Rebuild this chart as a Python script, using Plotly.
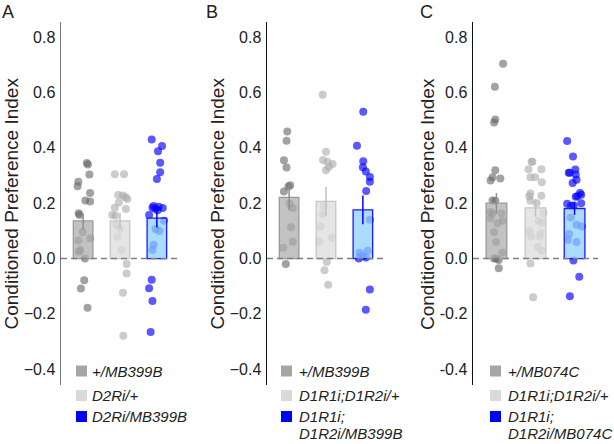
import plotly.graph_objects as go

W, H = 614, 444

# ---- data ----
panel_letters = ["A", "B", "C"]
labels_A = ["+/MB399B", "D2Ri/+", "D2Ri/MB399B"]
labels_B = ["+/MB399B", "D1R1i;D1R2i/+", "D1R1i;", "D1R2i/MB399B"]
labels_C = ["+/MB074C", "D1R1i;D1R2i/+", "D1R1i;", "D1R2i/MB074C"]

means_A = [0.136, 0.136, 0.146]
sem_A = [0.028, 0.028, 0.034]
means_B = [0.221, 0.207, 0.176]
sem_B = [0.046, 0.052, 0.052]
means_C = [0.200, 0.183, 0.181]
sem_C = [0.037, 0.032, 0.023]

# individual flies: values and horizontal jitter (in category units)
A1_y = [0.345, 0.34, 0.304, 0.278, 0.261, 0.237, 0.21, 0.206, 0.164, 0.157, 0.096,
        0.073, 0.065, 0.031, 0.025, 0.0, -0.078, -0.108, -0.178]
A1_dx = [0.10, 0.13, 0.17, -0.13, -0.15, 0.19, 0.06, 0.19, -0.12, -0.10, -0.01,
         0.19, -0.13, -0.08, -0.12, 0.05, 0.03, -0.06, 0.12]
A2_y = [0.305, 0.305, 0.23, 0.228, 0.222, 0.215, 0.203, 0.184, 0.179, 0.157, 0.155,
        0.122, 0.108, 0.079, 0.031, -0.02, -0.054, -0.124, -0.279]
A2_dx = [-0.14, 0.11, -0.05, 0.08, 0.15, 0.20, -0.03, -0.14, 0.16, -0.21, -0.12,
         -0.10, -0.01, -0.07, 0.04, 0.18, 0.18, 0.08, 0.09]
A3_y = [0.43, 0.407, 0.388, 0.346, 0.312, 0.288, 0.19, 0.187, 0.184, 0.18, 0.175,
        0.183, 0.157, 0.137, 0.107, 0.10, 0.05, 0.031, -0.077, -0.107, -0.153, -0.265]
A3_dx = [-0.14, 0.14, 0.03, 0.09, 0.09, 0.0, -0.09, 0.05, -0.12, -0.04, 0.02,
         0.16, -0.21, 0.19, -0.04, 0.07, -0.09, -0.12, -0.14, -0.21, -0.12, -0.17]

B1_y = [0.459, 0.426, 0.355, 0.329, 0.265, 0.26, 0.242, 0.198, 0.183, 0.113,
        0.061, 0.039, -0.02]
B1_dx = [-0.05, -0.07, -0.14, -0.07, 0.03, -0.02, -0.14, 0.01, 0.10, 0.05,
         0.10, -0.16, -0.09]
B2_y = [0.592, 0.386, 0.356, 0.35, 0.342, 0.331, 0.319, 0.191, 0.161, 0.116,
        0.075, 0.061, -0.012, -0.042, -0.095]
B2_dx = [-0.09, 0.0, -0.08, 0.04, 0.18, 0.08, 0.0, -0.06, -0.08, -0.14,
         0.16, -0.18, 0.02, -0.04, 0.06]
B3_y = [0.531, 0.408, 0.352, 0.33, 0.315, 0.295, 0.278, 0.244, 0.14, 0.021,
        0.028, 0.01, 0.0, 0.004, -0.112, -0.185]
B3_dx = [0.01, -0.16, 0.01, 0.0, 0.08, 0.19, 0.19, 0.09, 0.19, -0.09,
         0.13, -0.01, -0.11, 0.08, 0.19, 0.08]

C1_y = [0.704, 0.621, 0.503, 0.492, 0.319, 0.294, 0.289, 0.282, 0.209, 0.21,
        0.168, 0.164, 0.164, 0.146, 0.128, 0.137, 0.095, 0.06, 0.021, 0.0,
        -0.005, 0.0, -0.035]
C1_dx = [0.17, -0.04, -0.03, -0.06, -0.03, -0.10, 0.10, -0.15, -0.03, -0.10,
         -0.16, -0.10, 0.13, -0.15, 0.03, 0.16, -0.06, -0.01, 0.15, -0.06,
         0.06, -0.01, 0.06]
C2_y = [0.35, 0.35, 0.323, 0.323, 0.294, 0.294, 0.276, 0.235, 0.227, 0.225,
        0.209, 0.2, 0.164, 0.136, 0.129, 0.1, 0.092, 0.079, 0.079, 0.028,
        0.043, -0.018, -0.14]
C2_dx = [-0.10, -0.08, -0.18, 0.15, -0.13, -0.01, 0.16, -0.13, 0.15, -0.16,
         -0.13, 0.03, 0.20, 0.08, 0.16, -0.16, 0.13, -0.11, 0.11, 0.16,
         0.06, -0.13, -0.06]
C3_y = [0.425, 0.369, 0.31, 0.31, 0.322, 0.304, 0.273, 0.285, 0.225, 0.237,
        0.231, 0.223, 0.198, 0.191, 0.192, 0.2, 0.148, 0.122, 0.116, 0.089,
        0.067, 0.06, -0.007, -0.066, -0.136]
C3_dx = [-0.19, -0.04, -0.15, -0.12, 0.02, 0.03, -0.05, 0.05, 0.07, 0.14,
         0.17, 0.03, -0.19, -0.09, -0.02, 0.17, -0.10, 0.05, 0.19, -0.14,
         -0.17, 0.05, -0.03, 0.12, -0.12]

tick_vals = [-0.4, -0.2, 0.0, 0.2, 0.4, 0.6, 0.8]
tick_text_minus = ["\u22120.4", "\u22120.2", "0.0", "0.2", "0.4", "0.6", "0.8"]
tick_text_hyphen = ["-0.4", "-0.2", "0.0", "0.2", "0.4", "0.6", "0.8"]

# ---- styling ----
FONT = "Liberation Sans, Arial, sans-serif"
TXT = "#222222"
point_cols = ["rgba(100,100,100,0.6)", "rgba(170,170,170,0.6)", "rgba(0,0,255,0.65)"]
bar_fill = ["rgba(174,174,174,0.75)", "rgba(220,220,220,0.75)", "rgba(142,208,255,0.75)"]
bar_line = ["#9a9a9a", "#c6c6c6", "#1a1aff"]
err_col = ["#8f8f8f", "#c0c0c0", "#0000ff"]
legend_sq = ["#a6a6a6", "#d9d9d9", "#0000ff"]

# pixel layout of each panel: axis line x, right end, legend square left, legend text left
axis_px = [61, 267, 473]
end_px = [179, 385, 598]
leg_px = [76, 281, 490]
leg_txt_px = [90, 297, 506]
title_px = [10.5, 216.5, 427]
letter_px = [0, 204, 418]
axis_col = ["#777777", "#111111", "#111111"]

y_top_px, y_bot_px = 22, 385
y_range = [-0.457, 0.855]
x_range = [-0.6, 2.6]

panels = [
    (labels_A, means_A, sem_A, [(A1_y, A1_dx), (A2_y, A2_dx), (A3_y, A3_dx)], tick_text_minus),
    (labels_B, means_B, sem_B, [(B1_y, B1_dx), (B2_y, B2_dx), (B3_y, B3_dx)], tick_text_minus),
    (labels_C, means_C, sem_C, [(C1_y, C1_dx), (C2_y, C2_dx), (C3_y, C3_dx)], tick_text_hyphen),
]

fig = go.Figure()
shapes = []
annotations = []
axes = {}

for p, (labels, means, sems, pts, ticktext) in enumerate(panels):
    k = p + 1            # points + visible y axis
    ko = p + 4           # overlay axes for the bars (drawn above the points)
    xa, ya = ("x", "y") if k == 1 else (f"x{k}", f"y{k}")
    xo, yo = f"x{ko}", f"y{ko}"

    for g in range(3):
        ys, dxs = pts[g]
        fig.add_trace(go.Scatter(
            x=[g + d for d in dxs], y=ys, mode="markers",
            marker=dict(size=8, color=point_cols[g], line=dict(width=0)),
            xaxis=xa, yaxis=ya, showlegend=False))
    for g in range(3):
        fig.add_trace(go.Bar(
            x=[g], y=[means[g]], width=0.53,
            marker=dict(color=bar_fill[g], line=dict(color=bar_line[g], width=1.3)),
            error_y=dict(type="data", array=[sems[g]], color=err_col[g], thickness=1.5, width=0),
            xaxis=xo, yaxis=yo, showlegend=False))

    kx = "" if k == 1 else str(k)
    axes[f"xaxis{kx}"] = dict(domain=[axis_px[p] / W, end_px[p] / W], range=x_range,
                              visible=False, anchor=ya)
    axes[f"yaxis{kx}"] = dict(domain=[1 - y_bot_px / H, 1 - y_top_px / H], range=y_range,
                              anchor=xa, showline=True, linecolor=axis_col[p], linewidth=1.5,
                              showgrid=False, zeroline=False, ticks="", tickvals=tick_vals,
                              ticktext=ticktext, ticklabelstandoff=1,
                              tickfont=dict(family=FONT, size=16, color=TXT))
    axes[f"xaxis{ko}"] = dict(overlaying=xa, range=x_range, visible=False, anchor=yo)
    axes[f"yaxis{ko}"] = dict(overlaying=ya, range=y_range, visible=False, anchor=xo)

    # dashed zero line
    shapes.append(dict(type="line", xref=f"{xa} domain", yref=ya, x0=0, x1=1, y0=0, y1=0,
                       line=dict(color="#808080", width=1.4, dash="6px,4px"), layer="above"))

    # y title
    annotations.append(dict(text="Conditioned Preference Index", xref="paper", yref="paper",
                            x=title_px[p] / W, y=1 - 204 / H, xanchor="center", yanchor="middle",
                            textangle=-90, showarrow=False,
                            font=dict(family=FONT, size=19, color=TXT)))
    # panel letter
    annotations.append(dict(text=panel_letters[p], xref="paper", yref="paper",
                            x=letter_px[p] / W, y=1, xanchor="left", yanchor="top",
                            showarrow=False, font=dict(family=FONT, size=18, color=TXT)))

    # legend
    rows = [371, 395.5, 416.5]
    sq = 11
    for g in range(3):
        cy = rows[g]
        shapes.append(dict(type="rect", xref="paper", yref="paper",
                           x0=leg_px[p] / W, x1=(leg_px[p] + sq) / W,
                           y0=1 - (cy + sq / 2) / H, y1=1 - (cy - sq / 2) / H,
                           fillcolor=legend_sq[g], line=dict(width=0)))
        annotations.append(dict(text=f"<i>{labels[g]}</i>", xref="paper", yref="paper",
                                x=leg_txt_px[p] / W, y=1 - cy / H,
                                xanchor="left", yanchor="middle", showarrow=False,
                                font=dict(family=FONT, size=15, color=TXT)))
    if len(labels) > 3:
        annotations.append(dict(text=f"<i>{labels[3]}</i>", xref="paper", yref="paper",
                                x=leg_txt_px[p] / W, y=1 - 433 / H,
                                xanchor="left", yanchor="middle", showarrow=False,
                                font=dict(family=FONT, size=15, color=TXT)))

fig.update_layout(**axes)
fig.update_layout(
    width=W, height=H,
    margin=dict(l=0, r=0, t=0, b=0),
    paper_bgcolor="white", plot_bgcolor="rgba(0,0,0,0)",
    barmode="overlay",
    shapes=shapes, annotations=annotations,
    showlegend=False,
)

fig.write_html("out.html", config={"staticPlot": True},
               post_script="document.body.style.margin='0px';")
